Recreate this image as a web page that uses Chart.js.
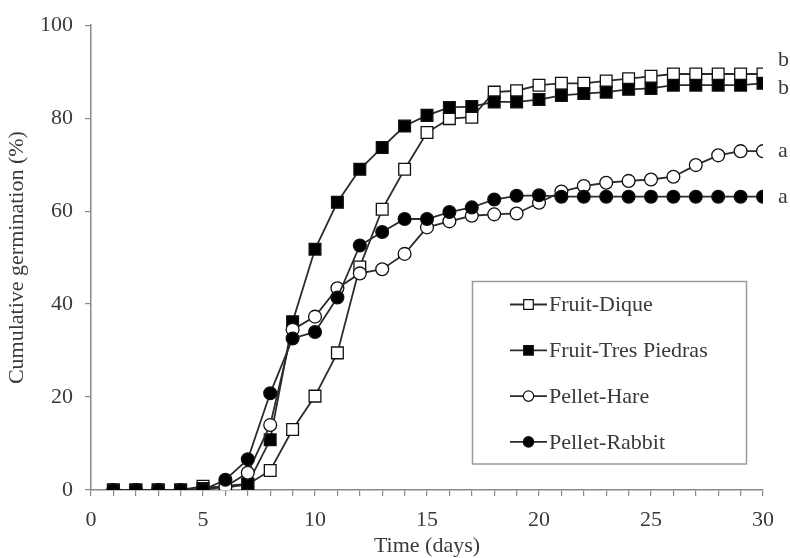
<!DOCTYPE html>
<html>
<head>
<meta charset="utf-8">
<script src="https://cdn.jsdelivr.net/npm/chart.js@4"></script>
<style>
  html, body { margin: 0; padding: 0; background: #ffffff; }
</style>
</head>
<body>
<canvas id="graficaGerminacion" width="790" height="558"></canvas>
<script>
// Datos (germinacion acumulada, %)
const dias = [1, 2, 3, 4, 5, 6, 7, 8, 9, 10, 11, 12, 13, 14, 15, 16, 17, 18, 19, 20, 21, 22, 23, 24, 25, 26, 27, 28, 29, 30];
const series = ['Fruit-Dique', 'Fruit-Tres Piedras', 'Pellet-Hare', 'Pellet-Rabbit'];
const fruitDique = [0, 0, 0, 0, 0.8, 0.5, 1.2, 4.2, 13.0, 20.2, 29.5, 48.0, 60.4, 69.0, 76.9, 79.9, 80.2, 85.6, 85.9, 87.1, 87.5, 87.5, 88.0, 88.5, 89.0, 89.5, 89.5, 89.5, 89.5, 89.5];
const fruitTresPiedras = [0, 0, 0, 0, 0.3, 0.9, 1.3, 10.8, 36.2, 51.8, 61.9, 69.0, 73.7, 78.3, 80.6, 82.3, 82.5, 83.5, 83.5, 84.0, 84.9, 85.3, 85.6, 86.2, 86.4, 87.1, 87.1, 87.1, 87.1, 87.5];
const pelletHare = [0, 0, 0, 0, 0, 0.7, 3.7, 14.0, 34.5, 37.3, 43.4, 46.6, 47.5, 50.8, 56.5, 57.8, 59.0, 59.3, 59.5, 61.8, 64.2, 65.4, 66.1, 66.5, 66.8, 67.4, 69.9, 72.0, 72.9, 72.9];
const pelletRabbit = [0, 0, 0, 0, 0, 2.2, 6.6, 20.8, 32.6, 34.0, 41.4, 52.6, 55.5, 58.3, 58.3, 59.8, 60.8, 62.5, 63.3, 63.4, 63.1, 63.1, 63.1, 63.1, 63.1, 63.1, 63.1, 63.1, 63.1, 63.1];

// Letras de significancia al final de cada curva
const letras = ['b', 'b', 'a', 'a'];
const letrasY = [92.5, 86.5, 72.9, 63.0];

const FUENTE = 'Liberation Serif, "Times New Roman", serif';
const TAM = 22;
const TEXTO = '#3a3a3a';
const EJE = '#8a8a8a';

function puntos(valores) {
    return dias.map((d, i) => ({ x: d, y: valores[i] }));
}

function serie(nombre, valores, forma, relleno, orden) {
    return {
        label: nombre,
        data: puntos(valores),
        borderColor: '#2b2b2b',
        borderWidth: 1.8,
        pointStyle: forma,
        pointRadius: forma === 'rect' ? 8.3 : 6.4,
        pointBackgroundColor: relleno,
        pointBorderColor: '#111111',
        pointBorderWidth: 1.3,
        tension: 0,
        order: orden
    };
}

// Leyenda con recuadro dentro del area de la grafica
const leyendaCaja = {
    id: 'leyendaCaja',
    afterDraw(chart) {
        const ctx = chart.ctx;
        ctx.save();
        ctx.strokeStyle = '#9a9a9a';
        ctx.lineWidth = 1.5;
        ctx.strokeRect(472.5, 281.5, 274, 182.5);
        ctx.font = TAM + 'px ' + FUENTE;
        ctx.textBaseline = 'middle';
        series.forEach((nombre, i) => {
            const ds = chart.data.datasets[i];
            const y = 304.5 + i * 45.8;
            ctx.strokeStyle = '#2b2b2b';
            ctx.lineWidth = 1.8;
            ctx.beginPath();
            ctx.moveTo(510, y);
            ctx.lineTo(547, y);
            ctx.stroke();
            ctx.fillStyle = ds.pointBackgroundColor;
            ctx.strokeStyle = '#111111';
            ctx.lineWidth = 1.2;
            Chart.helpers.drawPoint(ctx, {
                pointStyle: ds.pointStyle,
                rotation: 0,
                radius: ds.pointStyle === 'rect' ? 6.8 : 5.2,
                borderWidth: 1.2
            }, 528.5, y);
            ctx.fillStyle = TEXTO;
            ctx.fillText(nombre, 549, y + 1);
        });
        ctx.restore();
    }
};

// Letras a la derecha del area de trazado
const letrasFinal = {
    id: 'letrasFinal',
    afterDatasetsDraw(chart) {
        const ctx = chart.ctx;
        const yScale = chart.scales.y;
        ctx.save();
        ctx.font = TAM + 'px ' + FUENTE;
        ctx.fillStyle = TEXTO;
        ctx.textBaseline = 'middle';
        ctx.textAlign = 'left';
        letras.forEach((l, i) => {
            ctx.fillText(l, chart.chartArea.right + 15, yScale.getPixelForValue(letrasY[i]));
        });
        ctx.restore();
    }
};

const ctx = document.getElementById('graficaGerminacion').getContext('2d');
new Chart(ctx, {
    type: 'line',
    data: {
        datasets: [
            serie(series[0], fruitDique, 'rect', '#ffffff', 4),
            serie(series[1], fruitTresPiedras, 'rect', '#000000', 3),
            serie(series[2], pelletHare, 'circle', '#ffffff', 2),
            serie(series[3], pelletRabbit, 'circle', '#000000', 1)
        ]
    },
    options: {
        responsive: false,
        animation: false,
        layout: { padding: { top: 25, right: 27, bottom: 0, left: 0 } },
        plugins: {
            legend: { display: false },
            tooltip: { enabled: false }
        },
        scales: {
            x: {
                type: 'linear',
                min: 0,
                max: 30,
                afterFit: (s) => { s.height = 68; },
                border: { color: EJE, width: 1.5 },
                grid: { drawOnChartArea: false, drawTicks: true, tickLength: 6, color: EJE, lineWidth: 1.2 },
                ticks: {
                    stepSize: 1,
                    autoSkip: false,
                    maxRotation: 0,
                    padding: 11,
                    color: TEXTO,
                    font: { family: FUENTE, size: TAM },
                    callback: (v) => (v % 5 === 0 ? v : '')
                },
                title: {
                    display: true,
                    text: 'Time (days)',
                    color: TEXTO,
                    font: { family: FUENTE, size: TAM },
                    padding: { top: 0, bottom: -1 }
                }
            },
            y: {
                min: 0,
                max: 100,
                afterFit: (s) => { s.width = 91; },
                border: { color: EJE, width: 1.5 },
                grid: { drawOnChartArea: false, drawTicks: true, tickLength: 6, color: EJE, lineWidth: 1.2 },
                ticks: {
                    stepSize: 20,
                    padding: 12,
                    color: TEXTO,
                    font: { family: FUENTE, size: TAM }
                },
                title: {
                    display: true,
                    text: 'Cumulative germination (%)',
                    color: TEXTO,
                    font: { family: FUENTE, size: TAM },
                    padding: { top: 4, bottom: 0 }
                }
            }
        }
    },
    plugins: [leyendaCaja, letrasFinal]
});
</script>
</body>
</html>
